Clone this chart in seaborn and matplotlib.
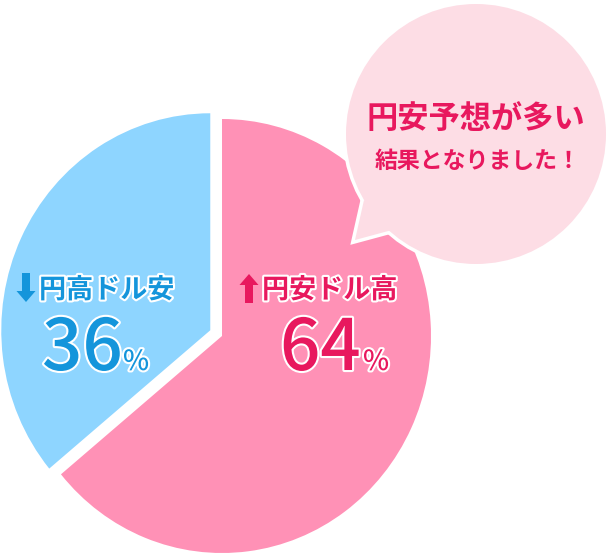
import numpy as np
import matplotlib
matplotlib.use('Agg')
import matplotlib.pyplot as plt
import matplotlib.patches as mpatches
import matplotlib.patheffects as pe
import seaborn as sns

sns.set_theme(style='white')
plt.rcParams['font.family'] = ['Noto Sans CJK JP', 'DejaVu Sans']

# data
labels = ['円安ドル高', '円高ドル安']
values = [64, 36]
slice_colors = ['#FF91B6', '#8ED5FF']
text_colors = ['#E8185E', '#1495DB']
bubble_lines = ['円安予想が多い', '結果となりました！']

W, H = 615, 555
fig = plt.figure(figsize=(W / 100, H / 100), dpi=100)
fig.patch.set_facecolor('white')

# pie in its own axes (slightly taller than wide, like the reference)
cx, cy, rx, ry = 222, 336, 209, 217
lim = 1.2
ax_pie = fig.add_axes([(cx - lim * rx) / W, (H - cy - lim * ry) / H,
                       2 * lim * rx / W, 2 * lim * ry / H])
ax_pie.pie(values, colors=slice_colors, startangle=90, counterclock=False,
           explode=[0, 0.062], wedgeprops=dict(linewidth=0))
ax_pie.set_aspect('auto')
ax_pie.set_xlim(-lim, lim)
ax_pie.set_ylim(-lim, lim)
ax_pie.axis('off')

# overlay in pixel coordinates
ax = fig.add_axes([0, 0, 1, 1])
ax.set_xlim(0, W)
ax.set_ylim(0, H)
ax.patch.set_alpha(0)
ax.axis('off')

def py(y):
    # pixel row (from top) -> data y
    return H - y

# speech bubble
bub_c, bub_r = (476, py(134)), 130
tail = [(364, py(200)), (355, py(240)), (392, py(230))]
for lw, z in [(5, 3), (0, 4)]:
    ax.add_patch(mpatches.Circle(bub_c, bub_r, facecolor='#FDDDE5',
                                 edgecolor='white', linewidth=lw, zorder=z))
    ax.add_patch(mpatches.Polygon(tail, closed=True, facecolor='#FDDDE5',
                                  edgecolor='white', linewidth=lw, zorder=z))
ax.text(476, py(119), bubble_lines[0], ha='center', va='center', fontsize=22.5,
        fontweight='bold', color=text_colors[0], zorder=5)
ax.text(478, py(161), bubble_lines[1], ha='center', va='center', fontsize=16.5,
        fontweight='bold', color=text_colors[0], zorder=5)

# slice labels
outline = [pe.Stroke(linewidth=3, foreground='white'), pe.Normal()]
arrow_x = [249, 26]                 # arrow centre x
arrow_dir = [1, -1]                 # up / down
label_x = [262, 39]
num_x = [280, 42]
pct_x = [363, 123]
for i in range(len(values)):
    c = text_colors[i]
    # block arrow
    if arrow_dir[i] > 0:
        start, length = py(303), 29
    else:
        start, length = py(273), -29
    ax.add_patch(mpatches.FancyArrow(arrow_x[i], start, 0, length, width=8,
                                     head_width=19, head_length=11,
                                     length_includes_head=True, color=c,
                                     linewidth=0, zorder=5))
    ax.text(label_x[i], py(290), labels[i], ha='left', va='center', fontsize=19.5,
            fontweight='bold', color=c, path_effects=outline, zorder=5)
    ax.text(num_x[i], py(370), str(values[i]), ha='left', va='baseline',
            fontsize=51, fontweight='medium', color=c, path_effects=outline,
            zorder=5)
    ax.text(pct_x[i], py(370), '%', ha='left', va='baseline', fontsize=20,
            fontweight='medium', color=c, path_effects=outline, zorder=5)

fig.savefig('out.png', dpi=100)
